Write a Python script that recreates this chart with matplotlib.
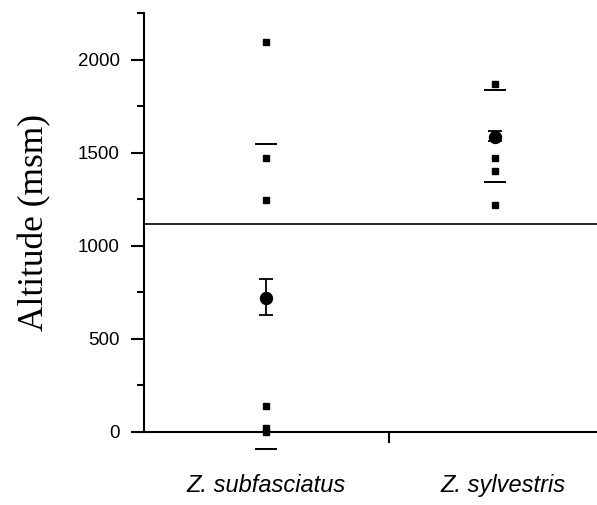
import numpy as np
import matplotlib
matplotlib.use("Agg")
import matplotlib.pyplot as plt
from matplotlib.ticker import MultipleLocator

# categories and their x positions
species = ["Z. subfasciatus", "Z. sylvestris"]
species_x = [0.5, 1.433]
label_x = [0.5, 1.465]

# individual records (altitude, msm)
sub_points = [2096, 1471, 1246, 141, 19, 0]
syl_points = [1871, 1471, 1403, 1219]

# mean with error bars (lower, upper)
means = [719, 1584]
err_low = [90, 20]
err_high = [102, 31]

# range dashes (upper, lower)
sub_dashes = [1545, -93]
syl_dashes = [1839, 1342]

threshold = 1115

fig = plt.figure(figsize=(5.97, 5.05), dpi=100)
ax = fig.add_axes([0.241, 0.1446, 0.759, 0.8294])

ax.plot([species_x[0]] * len(sub_points), sub_points, "s", color="black",
        markersize=5, clip_on=False, zorder=3)
ax.plot([species_x[1]] * len(syl_points), syl_points, "s", color="black",
        markersize=5, clip_on=False, zorder=3)

ax.plot([species_x[0]] * len(sub_dashes), sub_dashes, "_", color="black",
        markersize=16, markeredgewidth=1.4, clip_on=False)
ax.plot([species_x[1]] * len(syl_dashes), syl_dashes, "_", color="black",
        markersize=16, markeredgewidth=1.4, clip_on=False)

ax.errorbar(species_x, means, yerr=[err_low, err_high], fmt="o", color="black",
            markersize=8.6, capsize=5.3, elinewidth=1.3, capthick=1.3, zorder=4)

ax.axhline(threshold, color="black", linewidth=1.2)

ax.set_xlim(0, 1.849)
ax.set_ylim(0, 2250)

ax.spines["top"].set_visible(False)
ax.spines["right"].set_visible(False)
ax.spines["left"].set_linewidth(1.5)
ax.spines["bottom"].set_linewidth(1.5)

ax.yaxis.set_major_locator(MultipleLocator(500))
ax.yaxis.set_minor_locator(MultipleLocator(250))
ax.tick_params(axis="y", which="major", length=9.5, width=1.5, pad=8,
               labelsize=13.5)
ax.tick_params(axis="y", which="minor", length=5, width=1.5)
for lab in ax.get_yticklabels():
    lab.set_fontfamily("Liberation Sans")

ax.set_xticks(label_x)
ax.set_xticklabels(species, fontsize=17, fontstyle="italic",
                   fontfamily="Liberation Sans")
ax.set_xticks([1.0], minor=True)
ax.tick_params(axis="x", which="major", length=0, pad=30)
ax.tick_params(axis="x", which="minor", length=8, width=1.5)

ax.set_ylabel("Altitude (msm)", fontsize=25.5, fontfamily="Liberation Serif",
              labelpad=19)

fig.savefig("out.png", dpi=100)
